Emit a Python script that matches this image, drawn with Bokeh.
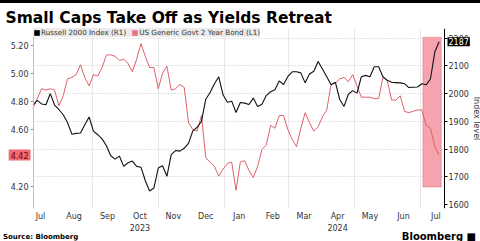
import pandas as pd
from bokeh.plotting import figure
from bokeh.layouts import column, row
from bokeh.models import (Range1d, LinearAxis, DatetimeAxis, FixedTicker, PrintfTickFormatter,
                          DatetimeTickFormatter, Grid, Legend, LegendItem, BoxAnnotation, Label, Div,
                          ColumnDataSource)
from bokeh.embed import file_html
from bokeh.resources import INLINE

# ---------------- data ----------------
dates = pd.date_range("2023-07-08", periods=95, freq="4D")

yield_2y = [4.75, 4.82, 4.89, 4.88, 4.89, 4.88, 4.77, 4.84, 4.96, 4.97,
            4.99, 5.06, 4.97, 4.91, 4.99, 4.98, 5.04, 5.13, 5.13, 5.12,
            5.09, 5.10, 5.07, 5.01, 5.10, 5.21, 5.12, 5.04, 5.04, 4.89,
            5.00, 5.05, 4.88, 4.89, 4.92, 4.90, 4.65, 4.60, 4.59, 4.70,
            4.40, 4.37, 4.34, 4.27, 4.32, 4.36, 4.37, 4.17, 4.37, 4.38,
            4.31, 4.26, 4.34, 4.46, 4.49, 4.63, 4.61, 4.70, 4.70, 4.60,
            4.53, 4.48, 4.61, 4.72, 4.65, 4.59, 4.62, 4.69, 4.74, 4.92,
            4.93, 4.96, 4.97, 4.94, 4.99, 4.91, 4.83, 4.83, 4.83, 4.82,
            4.82, 4.97, 4.95, 4.81, 4.81, 4.84, 4.73, 4.72, 4.73, 4.74,
            4.74, 4.63, 4.61, 4.48, 4.42]

russell = [1959, 1976, 1963, 1960, 2000, 1959, 1943, 1924, 1896, 1854,
           1857, 1858, 1888, 1916, 1865, 1852, 1837, 1812, 1776, 1764,
           1775, 1738, 1751, 1757, 1738, 1735, 1686, 1649, 1660, 1732,
           1740, 1702, 1780, 1795, 1793, 1803, 1821, 1866, 1879, 1900,
           1980, 2004, 2036, 2061, 1996, 1969, 1973, 1932, 1968, 1966,
           1961, 1984, 1954, 1962, 1993, 2007, 2014, 2046, 2033, 2062,
           2079, 2079, 2075, 2039, 2071, 2081, 2116, 2089, 2061, 2032,
           2041, 1979, 1954, 1998, 2011, 2002, 2061, 2066, 2061, 2097,
           2097, 2061, 2048, 2041, 2040, 2039, 2036, 2022, 2023, 2024,
           2036, 2032, 2053, 2150, 2187]

yield_ticks = [4.20, 4.60, 4.80, 5.00, 5.20]
index_ticks = [1600, 1700, 1800, 1900, 2000, 2100, 2200]
grid_ticks = [1700, 1800, 1900, 2000, 2100, 2200]
month_ticks = pd.date_range("2023-07-01", periods=13, freq="MS") + pd.Timedelta(days=14)
vgrid_dates = pd.date_range("2023-09-01", periods=6, freq="2MS")
year_ticks = [pd.Timestamp("2023-10-15"), pd.Timestamp("2024-04-15")]
highlight_start, highlight_end = pd.Timestamp("2024-07-03"), pd.Timestamp("2024-07-20")
highlight_low, highlight_high = 4.193, 5.255

title_text = "Small Caps Take Off as Yields Retreat"
label_r1 = "Russell 2000 Index (R1)"
label_l1 = "US Generic Govt 2 Year Bond (L1)"
source_text = "Source: Bloomberg"
brand_text = "Bloomberg \u25a0"

# ---------------- layout / styling ----------------
FONT = "DejaVu Sans"
RED = "#e0616a"
BLACK = "#111111"

W = 480
BAR_H, FOOT_H = 3, 8
H = 241 - BAR_H - FOOT_H
MT, MB = 25, 20
FH = H - MT - MB
AX_L, AX_R = 33, 444            # pixel columns of the two value axes

XL, XR = pd.Timestamp("2023-07-08 12:00"), pd.Timestamp("2024-07-23")
Y0, Y1 = 4.041, 5.317
I0, I1 = 1586, 2235


def ms(ts):
    return pd.Timestamp(ts).value / 1e6


SPP = (ms(XR) - ms(XL)) / (AX_R - AX_L)     # ms per pixel


def x_px(px):
    return ms(XL) + (px - AX_L) * SPP


X0, X1 = x_px(0), x_px(W)

p = figure(width=W, height=H, x_axis_type="datetime",
           x_range=Range1d(X0, X1), y_range=Range1d(Y0, Y1),
           output_backend="svg", toolbar_location=None,
           min_border_left=0, min_border_right=0, min_border_top=MT, min_border_bottom=MB,
           outline_line_color=None, background_fill_color="white", border_fill_color="white")
p.extra_y_ranges = {"idx": Range1d(I0, I1)}

# title
p.title.text = title_text
p.title.text_font = FONT
p.title.text_font_size = "15.5px"
p.title.text_font_style = "bold"
p.title.text_color = "black"
p.title.align = "left"
p.title.offset = 5
p.title.standoff = 3

# left axis (yield), pinned at its pixel column
la = p.yaxis[0]
la.fixed_location = x_px(AX_L)
la.ticker = FixedTicker(ticks=yield_ticks)
la.formatter = PrintfTickFormatter(format="%.2f")
la.axis_line_color = "#f0aeb1"
la.major_tick_line_color = "#999999"
la.major_tick_out = 3
la.major_tick_in = 0
la.minor_tick_out = 0
la.minor_tick_line_color = None
la.major_label_text_font = FONT
la.major_label_text_font_size = "8px"
la.major_label_text_color = "#333333"
la.major_label_standoff = 2

# bottom axis (months)
xa = p.xaxis[0]
xa.ticker = FixedTicker(ticks=[ms(t) for t in month_ticks])
xa.formatter = DatetimeTickFormatter(days="%b", months="%b", years="%b")
xa.axis_line_color = None
xa.major_tick_line_color = None
xa.minor_tick_line_color = None
xa.major_tick_out = 0
xa.minor_tick_out = 0
xa.major_label_text_font = FONT
xa.major_label_text_font_size = "8px"
xa.major_label_text_color = "#333333"
xa.major_label_standoff = 3

# second bottom axis (years)
ya = DatetimeAxis(ticker=FixedTicker(ticks=[ms(t) for t in year_ticks]),
                  formatter=DatetimeTickFormatter(days="%Y", months="%Y", years="%Y"))
ya.axis_line_color = None
ya.major_tick_line_color = None
ya.minor_tick_line_color = None
ya.major_tick_out = 0
ya.minor_tick_out = 0
ya.major_label_text_font = FONT
ya.major_label_text_font_size = "8px"
ya.major_label_text_color = "#333333"
ya.major_label_standoff = 0
p.add_layout(ya, "below")

# right axis (index), pinned at its pixel column
ra = LinearAxis(y_range_name="idx", ticker=FixedTicker(ticks=index_ticks), axis_label="Index level",
                fixed_location=x_px(AX_R))
ra.axis_line_color = "black"
ra.major_tick_line_color = "black"
ra.major_tick_out = 3
ra.major_tick_in = 0
ra.minor_tick_out = 0
ra.minor_tick_line_color = None
ra.major_label_text_font = FONT
ra.major_label_text_font_size = "8px"
ra.major_label_text_color = "#333333"
ra.major_label_standoff = 1
ra.axis_label_text_font = FONT
ra.axis_label_text_font_size = "8px"
ra.axis_label_text_font_style = "normal"
ra.axis_label_text_color = "#333333"
ra.axis_label_standoff = 0
p.add_layout(ra, "right")

# grids
p.ygrid.grid_line_color = None
p.xgrid.ticker = FixedTicker(ticks=[ms(t) for t in vgrid_dates])
p.xgrid.grid_line_color = "#e8e8e8"
try:
    g = Grid(dimension=1, ticker=FixedTicker(ticks=grid_ticks), y_range_name="idx",
             grid_line_color="#c8c8c8", grid_line_dash="1 2",
             cross_bounds=(x_px(AX_L), x_px(AX_R)))
except Exception:
    g = Grid(dimension=1, ticker=FixedTicker(ticks=grid_ticks), y_range_name="idx",
             grid_line_color="#c8c8c8", grid_line_dash="1 2")
p.add_layout(g)

# highlight box
p.add_layout(BoxAnnotation(left=ms(highlight_start), right=ms(highlight_end),
                           bottom=highlight_low, top=highlight_high,
                           fill_color="#f5a3ae", fill_alpha=1.0, line_color="#e23a4c",
                           line_width=1, level="underlay"))

# lines
src = ColumnDataSource(dict(date=dates, yld=yield_2y, idx=russell))
p.line("date", "yld", source=src, line_color=RED, line_width=1)
p.line("date", "idx", source=src, y_range_name="idx", line_color=BLACK, line_width=1.1)

# legend with square swatches (glyphs with no visible data)
nan = float("nan")
sq_k = p.quad(left=[nan], right=[nan], top=[nan], bottom=[nan], fill_color="black", line_color=None)
sq_r = p.quad(left=[nan], right=[nan], top=[nan], bottom=[nan], fill_color="#e8737a", line_color=None)
legend = Legend(items=[LegendItem(label=label_r1, renderers=[sq_k]),
                       LegendItem(label=label_l1, renderers=[sq_r])],
                location=(AX_L, FH - 14), orientation="horizontal",
                label_text_font=FONT, label_text_font_size="7.2px", label_text_color="#333333",
                label_height=9, glyph_height=7, glyph_width=7, label_standoff=1,
                spacing=5, padding=1, margin=0,
                background_fill_color="#ebebeb", background_fill_alpha=1.0,
                border_line_color=None)
p.add_layout(legend)

# value tags next to the axes
p.add_layout(Label(x=x_px(AX_L - 3), y=yield_2y[-1], text=f"{yield_2y[-1]:.2f}", text_font=FONT,
                   text_font_size="8px", text_color="#7a0000", background_fill_color="#ee6b73",
                   text_baseline="middle", text_align="right", padding=2))
p.add_layout(Label(x=x_px(AX_R + 3), y=russell[-1], y_range_name="idx",
                   text=f"{russell[-1]}", text_font=FONT, text_font_size="8px", text_color="white",
                   background_fill_color="black", text_baseline="middle", text_align="left",
                   padding=1))

bar = Div(text="", width=W, height=BAR_H, margin=0, styles={"background-color": "black"})
foot_l = Div(text=source_text, width=W // 2, height=FOOT_H, margin=0,
             styles={"font-family": FONT, "font-size": "7px", "font-weight": "bold",
                     "line-height": "8px", "color": "black", "padding-left": "3px",
                     "white-space": "nowrap"})
foot_r = Div(text=brand_text, width=W // 2, height=FOOT_H, margin=0,
             styles={"font-family": FONT, "font-size": "10px", "font-weight": "bold",
                     "line-height": "8px", "color": "black", "text-align": "right",
                     "padding-right": "4px", "white-space": "nowrap"})
layout = column(bar, p, row(foot_l, foot_r, spacing=0), spacing=0)

open("out.html", "w").write(file_html(layout, INLINE))
